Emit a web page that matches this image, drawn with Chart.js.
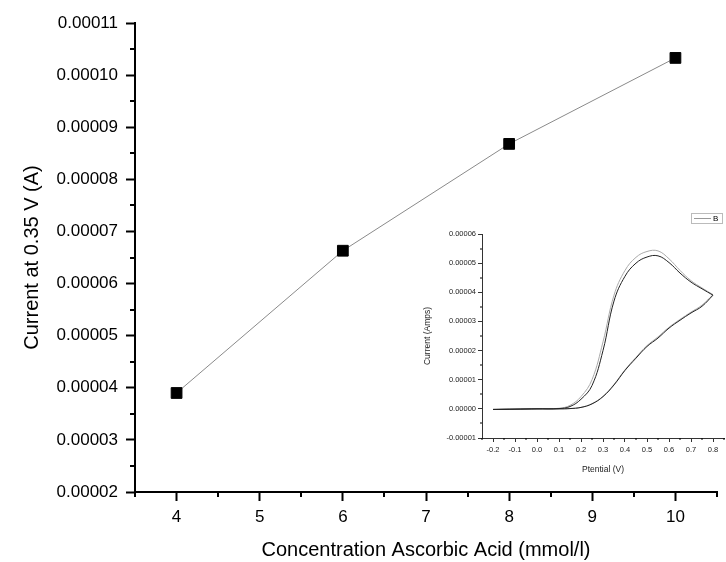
<!DOCTYPE html>
<html>
<head>
<meta charset="utf-8">
<script src="https://cdn.jsdelivr.net/npm/chart.js@4"></script>
<style>
body{margin:0;background:#fff;}
#wrap{position:relative;width:726px;height:562px;}
#mainChart{position:absolute;left:0;top:0;}
#cvChart{position:absolute;left:405px;top:205px;}
</style>
</head>
<body>
<div id="wrap">
<canvas id="mainChart" width="726" height="562"></canvas>
<canvas id="cvChart" width="321" height="270"></canvas>
</div>
<script>
// calibration: current at 0.35 V vs concentration
const conc = [4, 6, 8, 10]
const current = [0.0000390, 0.0000663, 0.0000868, 0.0001033]
const xTicks = [4, 5, 6, 7, 8, 9, 10]
const xMinor = [3.5, 4.5, 5.5, 6.5, 7.5, 8.5, 9.5, 10.5]
const yTicks = [0.00002, 0.00003, 0.00004, 0.00005, 0.00006, 0.00007, 0.00008, 0.00009, 0.00010, 0.00011]
const yMinor = [0.000025, 0.000035, 0.000045, 0.000055, 0.000065, 0.000075, 0.000085, 0.000095, 0.000105]

// cyclic voltammogram (inset), currents in units of 1e-5 A
const amp = 0.00001
const potFwd = [-0.2, -0.1, 0.0, 0.1, 0.15, 0.2, 0.25, 0.3, 0.35, 0.4, 0.45, 0.5, 0.55, 0.6, 0.65, 0.7, 0.75, 0.8]
const potRev = [0.8, 0.75, 0.7, 0.65, 0.6, 0.55, 0.5, 0.45, 0.4, 0.35, 0.3, 0.25, 0.2, 0.15, 0.1, 0.0, -0.1, -0.2]
const scan1Fwd = [-0.02, -0.01, 0.0, 0.01, 0.08, 0.33, 0.8, 2.0, 3.7, 4.55, 5.0, 5.21, 5.25, 5.02, 4.66, 4.35, 4.12, 3.9]
const scan1Rev = [3.9, 3.52, 3.29, 3.04, 2.77, 2.43, 2.14, 1.74, 1.32, 0.82, 0.42, 0.17, 0.05, 0.01, 0.0, 0.0, -0.01, -0.02]
const scan2Fwd = [-0.02, -0.01, 0.0, 0.02, 0.12, 0.42, 1.0, 2.3, 3.9, 4.75, 5.2, 5.4, 5.42, 5.15, 4.75, 4.4, 4.15, 3.92]
const scan2Rev = [3.92, 3.56, 3.32, 3.07, 2.8, 2.47, 2.17, 1.77, 1.34, 0.84, 0.43, 0.18, 0.05, 0.01, 0.0, 0.0, -0.01, -0.02]
const cvTicksX = [-0.2, -0.1, 0.0, 0.1, 0.2, 0.3, 0.4, 0.5, 0.6, 0.7, 0.8]
const cvMinorX = [-0.25, -0.15, -0.05, 0.05, 0.15, 0.25, 0.35, 0.45, 0.55, 0.65, 0.75, 0.85]
const cvTicksY = [-0.00001, 0.0, 0.00001, 0.00002, 0.00003, 0.00004, 0.00005, 0.00006]
const cvMinorY = [-0.000005, 0.000005, 0.000015, 0.000025, 0.000035, 0.000045, 0.000055]

const FONT = "'Liberation Sans', Arial, sans-serif"

function pts(xs, ys, k){
  return xs.map((x,i)=>({x:x, y:ys[i]*(k||1)}))
}

// small outward ticks between the labelled ones
function minorTicks(id, xm, ym, len, w){
  return {
    id:id,
    afterDraw(chart){
      const c = chart.ctx, xs = chart.scales.x, ys = chart.scales.y
      c.save()
      c.strokeStyle = "#000"
      c.lineWidth = w
      c.beginPath()
      xm.forEach(v=>{
        const px = Math.round(xs.getPixelForValue(v))
        c.moveTo(px, xs.top); c.lineTo(px, xs.top+len)
      })
      ym.forEach(v=>{
        const py = Math.round(ys.getPixelForValue(v))
        c.moveTo(ys.right, py); c.lineTo(ys.right-len, py)
      })
      c.stroke()
      c.restore()
    }
  }
}

new Chart(document.getElementById("mainChart"),{
  type:"scatter",
  data:{
    datasets:[{
      label:"Current",
      data:pts(conc, current),
      showLine:true,
      borderColor:"#8a8a8a",
      borderWidth:1,
      backgroundColor:"#000",
      pointStyle:"rect",
      pointRadius:7.6,
      pointBorderColor:"#000",
      pointBorderWidth:1
    }]
  },
  options:{
    responsive:false,
    animation:false,
    devicePixelRatio:1,
    layout:{padding:{top:23,right:9,left:0,bottom:0}},
    plugins:{legend:{display:false},tooltip:{enabled:false}},
    scales:{
      x:{
        type:"linear",
        min:3.5, max:10.5,
        afterBuildTicks:s=>{ s.ticks = xTicks.map(v=>({value:v})) },
        afterFit:s=>{ s.height = 70 },
        border:{color:"#000",width:2},
        grid:{drawOnChartArea:false,tickLength:9,tickWidth:2,tickColor:"#000"},
        ticks:{color:"#000",padding:6,font:{family:FONT,size:17},maxRotation:0,callback:v=>String(v)},
        title:{display:true,text:"Concentration Ascorbic Acid (mmol/l)",color:"#000",font:{family:FONT,size:20},padding:{top:1,bottom:0}}
      },
      y:{
        type:"linear",
        min:0.00002, max:0.00011,
        afterBuildTicks:s=>{ s.ticks = yTicks.map(v=>({value:v})) },
        afterFit:s=>{ s.width = 135 },
        border:{color:"#000",width:2},
        grid:{drawOnChartArea:false,tickLength:9,tickWidth:2,tickColor:"#000"},
        ticks:{color:"#000",padding:8,font:{family:FONT,size:17},callback:v=>v.toFixed(5)},
        title:{display:true,text:"Current at 0.35 V (A)",color:"#000",font:{family:FONT,size:20},padding:{top:20,bottom:0}}
      }
    }
  },
  plugins:[minorTicks("mainMinor", xMinor, yMinor, 5, 2)]
})

// legend frame with a single entry, top right of the inset
const cvLegend = {
  id:"cvLegend",
  afterDraw(chart){
    const c = chart.ctx
    c.save()
    c.strokeStyle = "#bbb"
    c.lineWidth = 1
    c.strokeRect(286.5, 8.5, 31, 10)
    c.strokeStyle = "#999"
    c.beginPath(); c.moveTo(289, 13.5); c.lineTo(306, 13.5); c.stroke()
    c.fillStyle = "#000"
    c.font = "8px " + FONT
    c.textBaseline = "middle"
    c.fillText(chart.data.datasets[1].label, 308, 14)
    c.restore()
  }
}

const cvLine = {showLine:true, pointRadius:0, borderWidth:1, tension:0.4, fill:false}

new Chart(document.getElementById("cvChart"),{
  type:"scatter",
  data:{
    datasets:[
      Object.assign({label:"A", data:pts(potFwd, scan1Fwd, amp).concat(pts(potRev, scan1Rev, amp)), borderColor:"#222"}, cvLine),
      Object.assign({label:"B", data:pts(potFwd, scan2Fwd, amp).concat(pts(potRev, scan2Rev, amp)), borderColor:"#aaa"}, cvLine)
    ]
  },
  options:{
    responsive:false,
    animation:false,
    devicePixelRatio:1,
    layout:{padding:{top:29,right:2,left:0,bottom:0}},
    plugins:{legend:{display:false},tooltip:{enabled:false}},
    scales:{
      x:{
        type:"linear",
        min:-0.25, max:0.85,
        afterBuildTicks:s=>{ s.ticks = cvTicksX.map(v=>({value:v})) },
        afterFit:s=>{ s.height = 37 },
        border:{color:"#333",width:1},
        grid:{drawOnChartArea:false,tickLength:4,tickWidth:1,tickColor:"#333"},
        ticks:{color:"#222",padding:3,font:{family:FONT,size:7.5},maxRotation:0,callback:v=>v.toFixed(1)},
        title:{display:true,text:"Ptential (V)",color:"#222",font:{family:FONT,size:8.5},padding:{top:5,bottom:0}}
      },
      y:{
        type:"linear",
        min:-0.00001, max:0.00006,
        afterBuildTicks:s=>{ s.ticks = cvTicksY.map(v=>({value:v})) },
        afterFit:s=>{ s.width = 77 },
        border:{color:"#333",width:1},
        grid:{drawOnChartArea:false,tickLength:4,tickWidth:1,tickColor:"#333"},
        ticks:{color:"#222",padding:2,font:{family:FONT,size:7.5},callback:v=>v.toFixed(5)},
        title:{display:true,text:"Current (Amps)",color:"#222",font:{family:FONT,size:8.5},padding:{top:18,bottom:0}}
      }
    }
  },
  plugins:[minorTicks("cvMinor", cvMinorX, cvMinorY, 2, 1), cvLegend]
})
</script>
</body>
</html>
